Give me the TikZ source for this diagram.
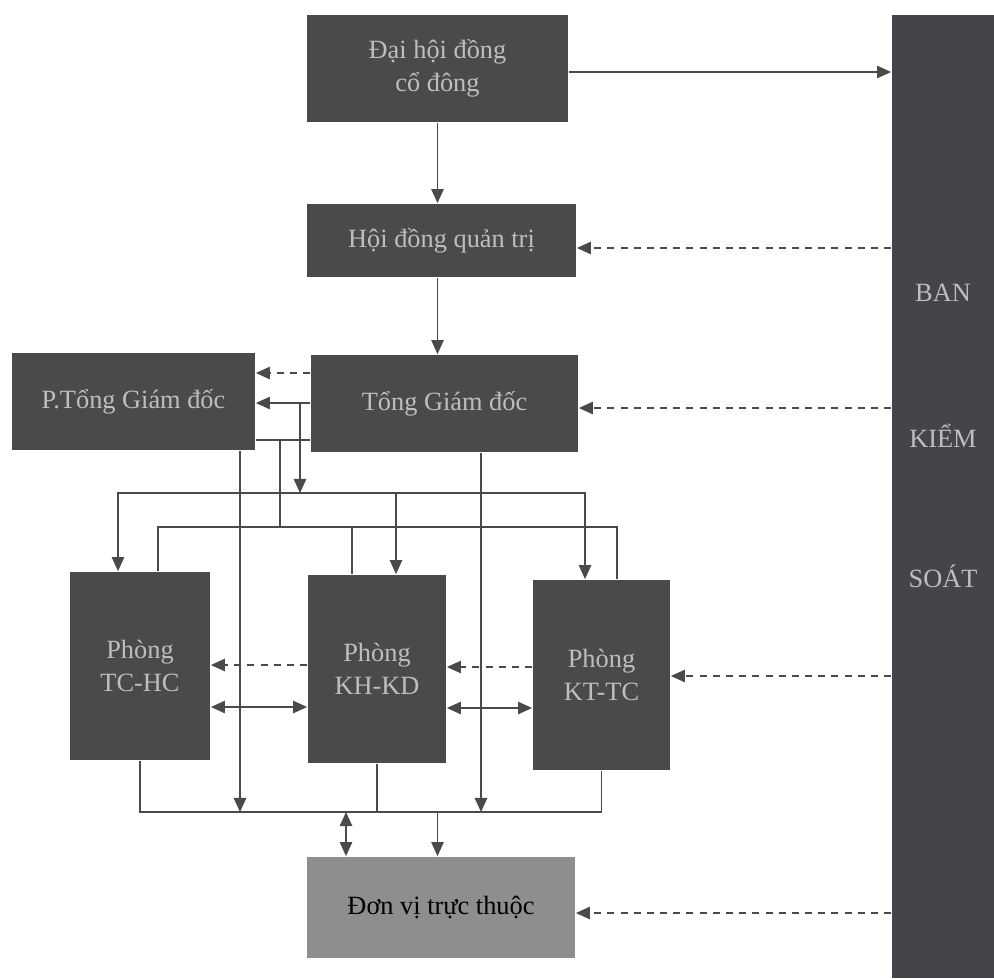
\documentclass[tikz,border=0pt]{standalone}
\usepackage{fontspec}
\setmainfont{Liberation Serif}
\usetikzlibrary{arrows.meta}
\definecolor{boxdark}{HTML}{4A4A4A}
\definecolor{boxlight}{HTML}{8E8E8E}
\definecolor{bksdark}{HTML}{44444B}
\definecolor{txtlight}{HTML}{BEBEBE}
\definecolor{linegray}{HTML}{4A4A4A}
\begin{document}
\begin{tikzpicture}[x=0.02cm, y=-0.02cm, line width=1pt, color=linegray,
  >={Triangle[width=7pt,length=8pt]},
  main/.style = {fill=boxdark, text=txtlight, inner sep=0pt, align=center, font=\fontsize{15}{19}\selectfont},
  light/.style = {main, fill=boxlight, text=black},
  word/.style = {text=txtlight, font=\fontsize{15}{19}\selectfont},
  ctrl/.style = {dash pattern=on 4pt off 3.5pt}]
  \useasboundingbox (0,0) rectangle (994,978);
  \node[main, minimum width=5.22cm, minimum height=2.14cm] (dh) at (437.5,68.5) {Đại hội đồng\\cổ đông};
  \node[main, minimum width=5.38cm, minimum height=1.46cm] (hd) at (441.5,240.5) {Hội đồng quản trị};
  \node[main, minimum width=5.34cm, minimum height=1.94cm] (tgd) at (444.5,403.5) {Tổng Giám đốc};
  \node[main, minimum width=4.86cm, minimum height=1.94cm] (ptgd) at (133.5,401.5) {P.Tổng Giám đốc};
  \node[main, minimum width=2.8cm, minimum height=3.76cm] (tchc) at (140,666) {Phòng\\TC-HC};
  \node[main, minimum width=2.76cm, minimum height=3.76cm] (khkd) at (377,669) {Phòng\\KH-KD};
  \node[main, minimum width=2.74cm, minimum height=3.8cm] (kttc) at (601.5,675) {Phòng\\KT-TC};
  \node[light, minimum width=5.36cm, minimum height=2.02cm] (dv) at (441,907.5) {Đơn vị trực thuộc};
  \node[main, fill=bksdark, minimum width=2.04cm, minimum height=19.26cm] (bks) at (943,496.5) {};
  \node[word] (ban) at (943,293) {BAN};
  \node[word] (kiem) at (943,436) {KIỂM};
  \node[word] (soat) at (943,576) {SOÁT};
  \coordinate (split) at (300,403);
  \coordinate (back) at (280,440);
  \coordinate (orders) at (0,493);
  \coordinate (reports) at (0,527);
  \coordinate (collect) at (0,812);
  % top of the chart
  \draw[->] (dh.east |- 0,72) -- (bks.west |- 0,72);
  \draw[->] (dh.south) -- (dh.south |- hd.north);
  \draw[->] (dh.south |- hd.south) -- (dh.south |- tgd.north);
  \draw[->, ctrl] (bks.west |- 0,248) -- (hd.east |- 0,248);
  \draw[->, ctrl] (bks.west |- 0,408) -- (tgd.east |- 0,408);
  \draw[->, ctrl] (bks.west |- 0,676) -- (kttc.east |- 0,676);
  \draw[->, ctrl] (bks.west |- 0,913) -- (dv.east |- 0,913);
  \draw[->, ctrl] (tgd.west |- 0,373) -- (ptgd.east |- 0,373);
  \draw[->] (tgd.west |- split) -- (ptgd.east |- split);
  \draw[->] (split) -- (split |- orders);
  \draw[->] (split |- orders) -| ([xshift=-0.44cm]tchc.north);
  \draw[->] (split |- orders) -| ([xshift=0.38cm]khkd.north);
  \draw[->] (split |- orders) -| ([xshift=-0.33cm]kttc.north);
  \draw (ptgd.east |- back) -- (tgd.west |- back);
  \draw (back) -- (back |- reports);
  \draw (back |- reports) -| ([xshift=0.36cm]tchc.north);
  \draw (back |- reports) -| ([xshift=-0.5cm]khkd.north);
  \draw (back |- reports) -| ([xshift=0.31cm]kttc.north);
  % between the departments
  \draw[->, ctrl] (khkd.west |- 0,665) -- (tchc.east |- 0,665);
  \draw[<->] (tchc.east |- 0,707) -- (khkd.west |- 0,707);
  \draw[->, ctrl] (kttc.west |- 0,667) -- (khkd.east |- 0,667);
  \draw[<->] (khkd.east |- 0,708) -- (kttc.west |- 0,708);
  % bottom
  \draw (tchc.south) |- (collect -| kttc.south) -- (kttc.south);
  \draw (khkd.south) -- (khkd.south |- collect);
  \draw[->] (ptgd.south -| 240,0) -- (collect -| 240,0);
  \draw[->] (tgd.south -| 481,0) -- (collect -| 481,0);
  \draw[<->] (collect -| 346,0) -- (dv.north -| 346,0);
  \draw[->] (collect -| dh.south) -- (dv.north -| dh.south);
\end{tikzpicture}
\end{document}
